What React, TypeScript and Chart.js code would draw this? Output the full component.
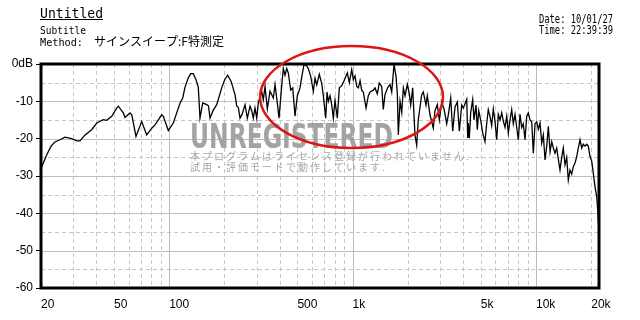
import React, { useEffect, useRef } from "react";
import { Chart, registerables } from "chart.js";

Chart.register(...registerables);

// ---- data ----
const frequencies = [
  20, 21.5, 22.7, 23.8, 25.4, 27, 29.4, 31.3, 32.6, 34.8,
  37.8, 40.3, 43.7, 45.6, 48.6, 51.7, 52.8, 56.2, 57.4, 61.1,
  62.5, 65.9, 70.8, 75.4, 80.3, 83.7, 91, 92.9, 98.9, 105.3,
  109.9, 114.5, 118.5, 122, 127.1, 131, 135.3, 140, 144.1, 147.2,
  152.3, 160.2, 163.8, 166.9, 173.3, 181.6, 193.3, 200.7, 208.4, 217.3,
  228.5, 233.4, 238.2, 243.3, 249.5, 259.1, 266.7, 275.9, 281.8, 287.5,
  293.7, 300.1, 306.1, 319.5, 326, 333, 342.8, 354.6, 369.6, 377.6,
  388.6, 397, 410.7, 419, 428, 437.3, 446.1, 459.8, 471.5, 485.3,
  499.5, 516.7, 527.9, 543.3, 562, 573.5, 591, 610.6, 623.8, 637.3,
  658.4, 678.5, 692.4, 713.6, 725.3, 737.2, 753.2, 769.3, 785, 801.8,
  825.4, 846.3, 872.2, 897.8, 935.8, 959.6, 988.9, 1009, 1031, 1053,
  1075, 1098, 1121, 1144, 1184, 1218, 1245, 1297, 1325, 1364,
  1398, 1441, 1470, 1502, 1554, 1600, 1634, 1682, 1725, 1754,
  1775, 1814, 1853, 1891, 1931, 1988, 2038, 2074, 2126, 2188,
  2235, 2281, 2380, 2429, 2513, 2554, 2642, 2754, 2813, 2896,
  2970, 3061, 3151, 3259, 3325, 3427, 3514, 3617, 3723, 3818,
  3935, 4015, 4190, 4243, 4275, 4328, 4404, 4516, 4590, 4707,
  4785, 4869, 4993, 5120, 5270, 5383, 5493, 5611, 5732, 5849,
  5975, 6104, 6229, 6363, 6501, 6632, 6776, 6923, 7063, 7214,
  7370, 7520, 7682, 7848, 8007, 8180, 8356, 8525, 8710, 8898,
  9078, 9274, 9475, 9667, 9876, 10090, 10294, 10517, 10744, 10962,
  11199, 11441, 11673, 11926, 12182, 12429, 12692, 12966, 13229, 13515,
  13805, 14086, 14389, 14700, 14998, 15322, 15653, 15971, 16316, 16669,
  17007, 17374, 17747, 18110, 18498, 18899, 19282, 19699, 20125, 20535,
  20976, 21430, 21700, 21920, 22050,
];

const levelsDb = [
  -28, -24.3, -22, -20.9, -20.3, -19.6, -20, -20.6, -20.6, -19,
  -17.6, -15.8, -14.9, -15.1, -14, -11.8, -11.3, -13.1, -14.3, -13.1,
  -13.6, -19.4, -15.4, -19, -17.2, -16.3, -13.6, -14, -17.8, -15.8,
  -13.1, -10.5, -9.1, -6.2, -3.7, -2.6, -2.6, -4.2, -6.2, -14.5,
  -10.4, -10.9, -11.2, -14.5, -12.5, -10.9, -6.4, -4.2, -3, -4.6,
  -8.2, -11.3, -11.6, -14.5, -13.5, -10.9, -14.5, -11.3, -12.5, -14.5,
  -11.8, -14.5, -10.4, -7.3, -9.6, -6, -12, -7.3, -9.1, -5.5,
  -10.5, -14.5, -5.8, -1.2, -3, -1.2, -2.4, -7, -6.4, -14,
  -8.5, -6.4, -3.5, -0.1, -0.5, -1.2, -3.3, -7.3, -3.8, -5.6,
  -2.8, -5.2, -8.5, -14.5, -7.5, -10, -8.5, -10.9, -14.5, -9.8,
  -14.5, -6.4, -5.8, -4.5, -2.4, -5, -1.5, -4.2, -3.2, -6,
  -6.4, -4.5, -7, -7.5, -11.8, -8.5, -7.5, -7, -6.4, -8,
  -5.1, -6, -12.2, -8.2, -6.3, -5.5, -7.5, -0.1, -3.3, -8.2,
  -19, -10, -13, -6.4, -8.5, -5.5, -8, -11, -6.4, -19,
  -21.7, -15, -8.2, -7.5, -11, -8.5, -13.6, -17.2, -12.5, -10.9,
  -15, -10.2, -12, -16, -13.6, -9.1, -18, -11.5, -10.2, -18,
  -11, -11.8, -9.5, -19.8, -15.8, -19.9, -13, -9.5, -15, -11,
  -17.6, -12.5, -15, -18.5, -20.8, -16, -12.2, -14, -16.5, -12,
  -15.3, -20.3, -13.5, -15, -13.1, -15.3, -17, -14, -18.5, -15,
  -12.2, -16, -13.5, -17, -20.3, -13.5, -17, -16, -20.3, -14,
  -13.1, -15, -15.5, -23.9, -16, -15.5, -17.5, -15.8, -21.2, -19,
  -25.7, -22, -16.7, -23.5, -20.8, -22.5, -23.9, -22.5, -25.5, -28.4,
  -25, -22.5, -27, -25, -31.1, -28.4, -29.5, -27.5, -26.5, -24.8,
  -22.5, -20.3, -22.5, -21.5, -22, -21.5, -22, -24.8, -26, -29.3,
  -32.9, -35.5, -39.1, -43, -46,
];

const xMin = 20;
const xMax = 22050;
const yMin = -60;
const yMax = 0;

const xTickValues = [20, 50, 100, 500, 1000, 5000, 10000, 20000];
const xTickLabels = ["20", "50", "100", "500", "1k", "5k", "10k", "20k"];
const yTickValues = [0, -10, -20, -30, -40, -50, -60];
const yTickLabels = ["0dB", "-10", "-20", "-30", "-40", "-50", "-60"];

const xMajorGrid = [100, 1000, 10000];
const xMinorGrid = [
  30, 40, 50, 60, 70, 80, 90,
  200, 300, 400, 500, 600, 700, 800, 900,
  2000, 3000, 4000, 5000, 6000, 7000, 8000, 9000,
  20000,
];
const yMajorGrid = [-10, -20, -30, -40, -50];
const yMinorGrid = [-5, -15, -25, -35, -45, -55];

const titleText = "Untitled";
const subtitleText = "Subtitle";
const methodLabel = "Method:";
const methodValue = "サインスイープ:F特測定";
const dateText = "Date: 10/01/27";
const timeText = "Time: 22:39:39";
const watermarkText = "UNREGISTERED";
const noticeLines = [
  "本プログラムはライセンス登録が行われていません.",
  "試用・評価モードで動作しています.",
];

// highlighted region (ellipse) in data terms
const highlightFreqLo = 313;
const highlightFreqHi = 3110;
const highlightDbTop = 4.8;
const highlightDbBottom = -22.5;

const MONO = "'DejaVu Sans Mono', 'Liberation Mono', monospace";
const TICK_FONT = "'Liberation Sans Narrow', 'Liberation Sans', sans-serif";
const JP = "'Noto Sans CJK JP', 'Noto Sans CJK SC', sans-serif";

function fitText(
  ctx: CanvasRenderingContext2D,
  text: string,
  x: number,
  y: number,
  width: number,
  font: string,
  color: string
) {
  ctx.save();
  ctx.font = font;
  ctx.fillStyle = color;
  ctx.textAlign = "left";
  ctx.textBaseline = "alphabetic";
  const w = ctx.measureText(text).width;
  ctx.translate(x, y);
  ctx.scale(width / w, 1);
  ctx.fillText(text, 0, 0);
  ctx.restore();
}

const decorPlugin = {
  id: "decor",
  beforeDatasetsDraw(chart: any) {
    const { ctx, chartArea: a, scales } = chart;
    const x = scales.x;
    const y = scales.y;
    ctx.save();
    // dashed minor grid
    ctx.lineWidth = 1;
    ctx.strokeStyle = "#c6c6c6";
    ctx.setLineDash([4, 3]);
    ctx.beginPath();
    for (const v of xMinorGrid) {
      const px = Math.round(x.getPixelForValue(v)) + 0.5;
      ctx.moveTo(px, a.top);
      ctx.lineTo(px, a.bottom);
    }
    for (const v of yMinorGrid) {
      const py = Math.round(y.getPixelForValue(v)) + 0.5;
      ctx.moveTo(a.left, py);
      ctx.lineTo(a.right, py);
    }
    ctx.stroke();
    // solid major grid
    ctx.setLineDash([]);
    ctx.strokeStyle = "#bdbdbd";
    ctx.beginPath();
    for (const v of xMajorGrid) {
      const px = Math.round(x.getPixelForValue(v)) + 0.5;
      ctx.moveTo(px, a.top);
      ctx.lineTo(px, a.bottom);
    }
    for (const v of yMajorGrid) {
      const py = Math.round(y.getPixelForValue(v)) + 0.5;
      ctx.moveTo(a.left, py);
      ctx.lineTo(a.right, py);
    }
    ctx.stroke();
    ctx.restore();

    // watermark
    fitText(ctx, watermarkText, 190, 148, 203, "bold 34px 'DejaVu Sans', sans-serif", "#a3a3a3");
    ctx.save();
    ctx.font = `10px ${JP}`;
    ctx.fillStyle = "#a6a6a6";
    ctx.textBaseline = "alphabetic";
    (ctx as any).letterSpacing = "2px";
    ctx.fillText(noticeLines[0], 190, 159.5);
    ctx.fillText(noticeLines[1], 190, 170.5);
    ctx.restore();
  },
  afterDatasetsDraw(chart: any) {
    const { ctx, chartArea: a, scales } = chart;
    const x = scales.x;
    const y = scales.y;
    ctx.save();
    // frame
    ctx.strokeStyle = "#000";
    ctx.lineWidth = 3;
    ctx.strokeRect(a.left, a.top, a.right - a.left, a.bottom - a.top);
    // highlight ellipse
    const x1 = x.getPixelForValue(highlightFreqLo);
    const x2 = x.getPixelForValue(highlightFreqHi);
    const y1 = y.getPixelForValue(highlightDbTop);
    const y2 = y.getPixelForValue(highlightDbBottom);
    ctx.strokeStyle = "#dd1515";
    ctx.lineWidth = 2.5;
    ctx.beginPath();
    ctx.ellipse((x1 + x2) / 2, (y1 + y2) / 2, (x2 - x1) / 2, (y2 - y1) / 2, 0, 0, Math.PI * 2);
    ctx.stroke();
    ctx.restore();
  },
  afterDraw(chart: any) {
    const { ctx } = chart;
    // header
    fitText(ctx, titleText, 40, 18, 63, `14px ${MONO}`, "#000");
    ctx.save();
    ctx.fillStyle = "#000";
    ctx.fillRect(40, 19, 63, 1);
    ctx.restore();
    fitText(ctx, subtitleText, 40, 33.5, 46, `11px ${MONO}`, "#000");
    fitText(ctx, methodLabel, 40, 46, 43, `11px ${MONO}`, "#000");
    ctx.save();
    ctx.font = `12px ${JP}`;
    ctx.fillStyle = "#000";
    ctx.textBaseline = "alphabetic";
    ctx.fillText(methodValue, 94, 45.5);
    ctx.restore();
    fitText(ctx, dateText, 539, 22.5, 74, `12px ${MONO}`, "#000");
    fitText(ctx, timeText, 539, 33.5, 74, `12px ${MONO}`, "#000");
  },
};

export default function App() {
  const canvasRef = useRef<HTMLCanvasElement | null>(null);

  useEffect(() => {
    const canvas = canvasRef.current;
    if (!canvas) return;
    const points = frequencies.map((f, i) => ({ x: f, y: levelsDb[i] }));
    const chart = new Chart(canvas, {
      type: "line",
      data: {
        datasets: [
          {
            data: points,
            borderColor: "#000",
            borderWidth: 1.3,
            pointRadius: 0,
            tension: 0,
            fill: false,
          },
        ],
      },
      options: {
        responsive: false,
        animation: false,
        devicePixelRatio: 1,
        layout: { padding: { left: 0, top: 64, right: 41, bottom: 0 } },
        plugins: {
          legend: { display: false },
          tooltip: { enabled: false },
          title: { display: false },
        },
        scales: {
          x: {
            type: "logarithmic",
            min: xMin,
            max: xMax,
            afterBuildTicks: (s: any) => {
              s.ticks = xTickValues.map((v) => ({ value: v }));
            },
            afterFit: (s: any) => {
              s.height = 32;
            },
            ticks: {
              autoSkip: false,
              maxRotation: 0,
              minRotation: 0,
              align: "start",
              padding: 1,
              color: "#000",
              font: { family: TICK_FONT, size: 12 },
              callback: (_v: any, i: number) => xTickLabels[i],
            },
            grid: { display: false },
            border: { display: false },
          },
          y: {
            type: "linear",
            min: yMin,
            max: yMax,
            afterBuildTicks: (s: any) => {
              s.ticks = yTickValues.map((v) => ({ value: v }));
            },
            afterFit: (s: any) => {
              s.width = 41;
            },
            ticks: {
              padding: 3,
              color: "#000",
              font: { family: TICK_FONT, size: 12 },
              callback: (_v: any, i: number) => yTickLabels[i],
            },
            grid: {
              display: true,
              drawOnChartArea: false,
              drawTicks: true,
              tickLength: 5,
              tickColor: "#000",
              tickWidth: 1,
            },
            border: { display: false },
          },
        },
      },
      plugins: [decorPlugin],
    } as any);
    return () => chart.destroy();
  }, []);

  return (
    <div style={{ position: "absolute", left: 0, top: 0, width: 640, height: 320, background: "#fff" }}>
      <canvas ref={canvasRef} width={640} height={320} style={{ display: "block" }} />
    </div>
  );
}
